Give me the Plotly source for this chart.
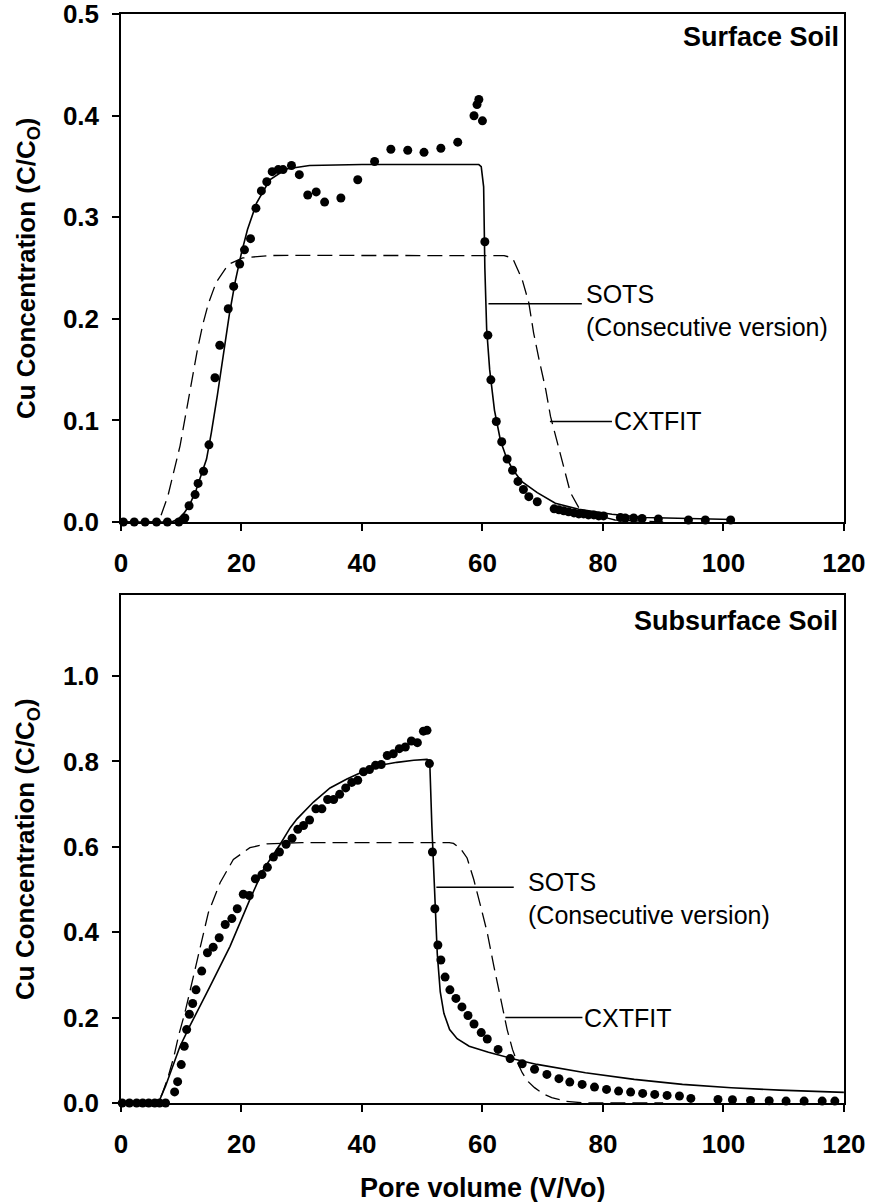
import plotly.graph_objects as go

# ---------------- data: Surface Soil (top) ----------------
obs1_x = [0.4, 2.2, 4.0, 5.9, 7.7, 9.6, 10.6, 11.3, 12.3, 12.8, 13.7, 14.6, 15.6, 16.4,
          17.8, 18.7, 19.7, 20.5, 21.5, 22.4, 23.3, 24.2, 25.1, 26.1, 26.9, 28.3, 29.6,
          31.0, 32.4, 33.8, 36.5, 39.3, 42.1, 44.8, 47.6, 50.3, 53.1, 55.9, 58.6, 59.1,
          59.4, 60.0, 60.4, 60.9, 61.4, 62.3, 63.2, 64.1, 65.0, 65.9, 66.8, 67.7, 69.1,
          71.9, 72.7, 73.5, 74.3, 75.2, 76.0, 76.8, 77.6, 78.5, 79.3, 80.1, 82.9, 83.7,
          85.1, 86.5, 89.2, 94.2, 97.0, 101.2]
obs1_y = [0, 0, 0, 0, 0, 0, 0.004, 0.016, 0.027, 0.038, 0.050, 0.076, 0.142, 0.174,
          0.210, 0.232, 0.254, 0.268, 0.279, 0.309, 0.326, 0.335, 0.345, 0.347, 0.347,
          0.351, 0.342, 0.322, 0.325, 0.315, 0.319, 0.337, 0.355, 0.367, 0.366, 0.364,
          0.368, 0.374, 0.400, 0.411, 0.416, 0.395, 0.276, 0.184, 0.140, 0.099, 0.079,
          0.062, 0.051, 0.040, 0.032, 0.025, 0.020, 0.013, 0.012, 0.011, 0.010, 0.009,
          0.008, 0.008, 0.007, 0.007, 0.006, 0.006, 0.0045, 0.004, 0.004, 0.0035, 0.003,
          0.002, 0.002, 0.002]

sots1_x = [0, 8.4, 9.5, 10.5, 11.4, 12.5, 14.2, 15.0, 16.0, 17.0, 18.0, 19.0, 20.0, 21.0,
           22.5, 24.7, 27.4, 31.3, 34.1, 40, 50, 59.4, 59.8, 60.2, 60.4, 60.7, 61.2, 62.0,
           63.0, 64.0, 65.0, 66.5, 69.1, 72.1, 76.0, 81.5, 87.0, 95.0, 101.5]
sots1_y = [0, 0, 0.003, 0.009, 0.017, 0.032, 0.062, 0.088, 0.125, 0.165, 0.205, 0.238,
           0.265, 0.288, 0.314, 0.337, 0.3476, 0.351, 0.3515, 0.352, 0.352, 0.352, 0.350,
           0.33, 0.25, 0.19, 0.15, 0.11, 0.08, 0.063, 0.052, 0.040, 0.029, 0.0185, 0.0126,
           0.0077, 0.0044, 0.003, 0.0025]

cxt1_x = [0, 6.0, 6.5, 7.8, 9.8, 11.7, 12.7, 13.6, 14.5, 15.8, 17.8, 20.2, 24.7, 30, 40,
          50, 60, 62.5, 63.6, 65.0, 66.6, 67.7, 68.5, 69.4, 70.5, 71.3, 72.4, 73.5, 74.6,
          76.0, 77.6, 79.3, 82, 90]
cxt1_y = [0, 0, 0.004, 0.026, 0.075, 0.137, 0.17, 0.195, 0.215, 0.236, 0.2535, 0.260,
          0.2624, 0.2625, 0.2625, 0.2625, 0.2625, 0.2625, 0.2623, 0.260, 0.2387, 0.2158,
          0.186, 0.160, 0.1306, 0.104, 0.078, 0.052, 0.029, 0.014, 0.009, 0.006, 0.002, 0.0]

# ---------------- data: Subsurface Soil (bottom) ----------------
obs2_x = [0.2, 1.4, 2.6, 3.6, 4.6, 5.6, 6.4, 7.4, 8.9, 9.4, 10.0, 10.5, 10.9, 11.35,
          11.9, 12.45, 13.4, 14.35, 15.3, 16.3, 17.3, 18.4, 19.3, 20.3, 21.3, 22.3, 23.4,
          24.3, 25.3, 26.3, 27.4, 28.4, 29.35, 30.3, 31.3, 32.35, 33.35, 34.3, 35.3, 36.3,
          37.3, 38.3, 39.3, 40.25, 41.25, 42.25, 43.2, 44.2, 45.2, 46.2, 47.2, 48.2, 49.2,
          50.2, 50.8, 51.2, 51.7, 52.1, 52.6, 53.1, 53.8, 54.6, 55.6, 56.6, 57.6, 58.6,
          59.8, 60.8, 62.6, 64.6, 66.6, 68.65, 70.7, 72.7, 74.5, 76.55, 78.6, 80.6, 82.6,
          84.6, 86.6, 88.6, 90.65, 92.7, 94.6, 99.1, 101.5, 104.5, 107.6, 110.4, 113.4,
          116.4, 118.5]
obs2_y = [0, 0, 0, 0, 0, 0, 0, 0, 0.026, 0.050, 0.090, 0.133, 0.172, 0.208, 0.233, 0.265,
          0.309, 0.352, 0.365, 0.387, 0.418, 0.432, 0.455, 0.489, 0.486, 0.525, 0.535,
          0.552, 0.576, 0.588, 0.606, 0.620, 0.641, 0.650, 0.663, 0.689, 0.689, 0.711,
          0.711, 0.723, 0.738, 0.751, 0.756, 0.776, 0.781, 0.791, 0.793, 0.814, 0.818,
          0.830, 0.834, 0.848, 0.844, 0.871, 0.873, 0.795, 0.588, 0.455, 0.370, 0.335,
          0.295, 0.265, 0.245, 0.225, 0.205, 0.185, 0.165, 0.150, 0.1255, 0.104, 0.092,
          0.079, 0.067, 0.057, 0.049, 0.0436, 0.0373, 0.0319, 0.0279, 0.0256, 0.0225,
          0.0201, 0.0178, 0.0163, 0.0108, 0.0084, 0.0076, 0.006, 0.0053, 0.0045, 0.0045,
          0.0045, 0.0045]

sots2_x = [0, 6.2, 7.4, 8.6, 9.8, 10.9, 11.2, 14.8, 18.1, 21.4, 23.65, 26.4, 28.1, 29.2,
           31.95, 34.7, 37.5, 40.3, 43.0, 45.8, 48.6, 50.8, 51.25, 51.6, 52.0, 52.5, 53.0,
           53.6, 54.55, 55.8, 57.8, 61.0, 65.0, 69.06, 77.1, 85.2, 93.2, 101.3, 109.3, 120]
sots2_y = [0, 0, 0.04, 0.086, 0.133, 0.165, 0.174, 0.274, 0.367, 0.477, 0.5475, 0.6056,
           0.645, 0.665, 0.705, 0.738, 0.759, 0.777, 0.791, 0.798, 0.803, 0.805, 0.801,
           0.65, 0.5, 0.35, 0.26, 0.21, 0.172, 0.1505, 0.133, 0.119, 0.1037, 0.0904,
           0.0709, 0.0553, 0.0436, 0.0358, 0.0302, 0.025]

cxt2_x = [0, 6.0, 6.8, 7.8, 8.8, 9.6, 10.6, 12.0, 13.1, 14.5, 16.45, 18.65, 21.4, 24.2,
          30, 40, 50, 54.5, 55.2, 56.4, 57.45, 58.55, 59.7, 60.8, 61.9, 63.0, 64.1, 65.0,
          65.8, 66.6, 67.6, 68.65, 70.0, 71.5, 73.9, 77, 90]
cxt2_y = [0, 0, 0.02, 0.06, 0.11, 0.16, 0.211, 0.297, 0.367, 0.446, 0.516, 0.5705,
          0.598, 0.607, 0.61, 0.61, 0.61, 0.61, 0.608, 0.595, 0.574, 0.524, 0.461, 0.399,
          0.32, 0.25, 0.172, 0.125, 0.095, 0.071, 0.05, 0.036, 0.022, 0.0124, 0.004, 0.0,
          0.0]

x_ticks = [0, 20, 40, 60, 80, 100, 120]
y1_ticks = [0.0, 0.1, 0.2, 0.3, 0.4, 0.5]
y2_ticks = [0.0, 0.2, 0.4, 0.6, 0.8, 1.0]

panel_titles = ["Surface Soil", "Subsurface Soil"]
sots_label = "SOTS<br>(Consecutive version)"
cxt_label = "CXTFIT"
y_title = "Cu Concentration (C/C<sub>O</sub>)"
x_title = "Pore volume (V/Vo)"

# ---------------- figure ----------------
FONT = "Liberation Sans, Arial, Helvetica, sans-serif"
fig = go.Figure()

def add_panel(xa, ya, ox, oy, sx, sy, cx, cy):
    fig.add_trace(go.Scatter(x=cx, y=cy, mode="lines", xaxis=xa, yaxis=ya,
                             line=dict(color="black", width=1.3, dash="15px,7px"),
                             showlegend=False, cliponaxis=False))
    fig.add_trace(go.Scatter(x=sx, y=sy, mode="lines", xaxis=xa, yaxis=ya,
                             line=dict(color="black", width=1.6),
                             showlegend=False, cliponaxis=False))
    fig.add_trace(go.Scatter(x=ox, y=oy, mode="markers", xaxis=xa, yaxis=ya,
                             marker=dict(color="black", size=9),
                             showlegend=False, cliponaxis=False))

add_panel("x", "y", obs1_x, obs1_y, sots1_x, sots1_y, cxt1_x, cxt1_y)
add_panel("x2", "y2", obs2_x, obs2_y, sots2_x, sots2_y, cxt2_x, cxt2_y)

tickfont = dict(family=FONT, size=26, color="black", weight="bold")
axis_common = dict(showline=True, linecolor="black", linewidth=1.5, mirror=True,
                   ticks="outside", ticklen=7, tickwidth=1.5, tickcolor="black",
                   showgrid=False, zeroline=False, tickfont=tickfont,
                   ticklabeloverflow="allow", automargin=False)

fig.update_layout(
    width=869, height=1202,
    margin=dict(l=121, r=25, t=14, b=99, autoexpand=False),
    paper_bgcolor="white", plot_bgcolor="white",
    showlegend=False,
    xaxis=dict(domain=[0, 1], range=[0, 120.02], tickvals=x_ticks, anchor="y",
               ticklabelstandoff=10, **axis_common),
    yaxis=dict(domain=[0.5335, 1], range=[0, 0.5002], tickvals=y1_ticks,
               tickformat=".1f", anchor="x", ticklabelstandoff=8, **axis_common),
    xaxis2=dict(domain=[0, 1], range=[0, 120.02], tickvals=x_ticks, anchor="y2",
                ticklabelstandoff=10, **axis_common),
    yaxis2=dict(domain=[0, 0.4665], range=[0, 1.19], tickvals=y2_ticks,
                tickformat=".1f", anchor="x2", ticklabelstandoff=8, **axis_common),
)

ann_font = dict(family=FONT, size=25, color="black")
bold_font = dict(family=FONT, size=26, color="black", weight="bold")
panel_font = dict(family=FONT, size=27, color="black", weight="bold")

annotations = [
    dict(text=panel_titles[0], x=1, y=0.478, xref="paper", yref="y", xanchor="right",
         xshift=-3, yanchor="middle", showarrow=False, font=panel_font),
    dict(text=panel_titles[1], x=1, y=1.13, xref="paper", yref="y2", xanchor="right",
         xshift=-4, yanchor="middle", showarrow=False, font=panel_font),
    dict(text=sots_label, x=76.8, y=0.208, xref="x", yref="y", xanchor="left",
         yanchor="middle", align="left", showarrow=False, font=ann_font),
    dict(text=cxt_label, x=81.5, y=0.099, xref="x", yref="y", xanchor="left",
         yanchor="middle", showarrow=False, font=ann_font),
    dict(text=sots_label, x=67.2, y=0.479, xref="x2", yref="y2", xanchor="left",
         yanchor="middle", align="left", showarrow=False, font=ann_font),
    dict(text=cxt_label, x=76.6, y=0.2, xref="x2", yref="y2", xanchor="left",
         yanchor="middle", showarrow=False, font=ann_font),
    dict(text=y_title, x=0, y=0.7667, xref="paper", yref="paper", xshift=-94,
         xanchor="center", yanchor="middle", textangle=-90, showarrow=False,
         font=bold_font),
    dict(text=y_title, x=0, y=0.2333, xref="paper", yref="paper", xshift=-94,
         xanchor="center", yanchor="middle", textangle=-90, showarrow=False,
         font=bold_font),
    dict(text=x_title, x=0.5, y=0, xref="paper", yref="paper", yshift=-85,
         xanchor="center", yanchor="middle", showarrow=False,
         font=dict(family=FONT, size=27, color="black", weight="bold")),
]
fig.update_layout(annotations=annotations)

leader_lines = [
    ("x", "y", 61.0, 76.5, 0.215),
    ("x", "y", 71.2, 81.5, 0.099),
    ("x2", "y2", 52.35, 65.2, 0.5056),
    ("x2", "y2", 63.8, 76.6, 0.2),
]
for xr, yr, x0, x1, yv in leader_lines:
    fig.add_shape(type="line", xref=xr, yref=yr, x0=x0, x1=x1, y0=yv, y1=yv,
                  line=dict(color="black", width=1.5))

fig.write_html("out.html")
